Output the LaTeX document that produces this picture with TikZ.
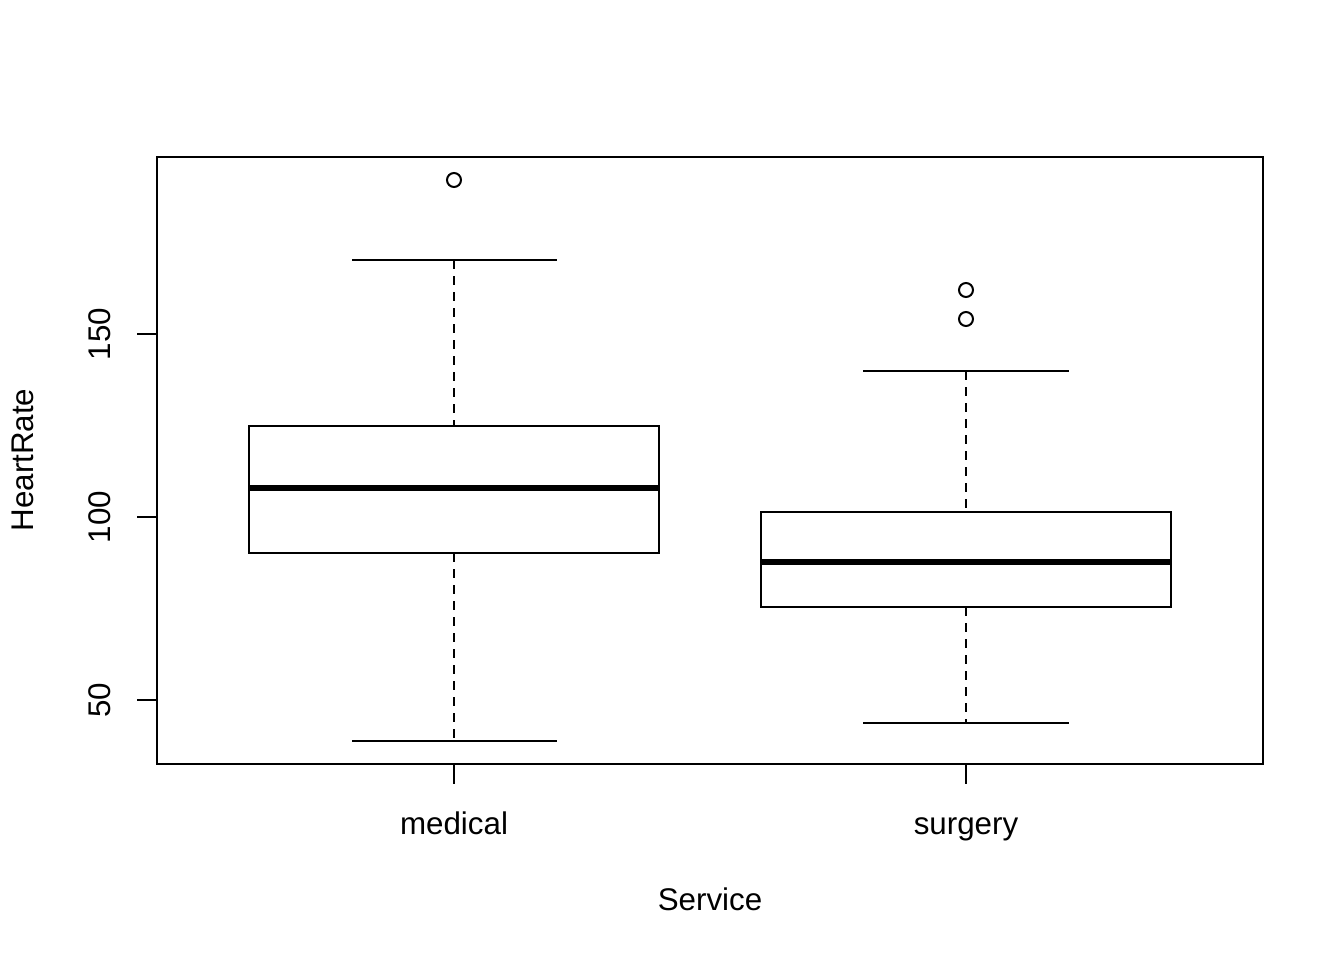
\documentclass[tikz,border=0pt]{standalone}
\usepackage{fontspec}
\setmainfont{Liberation Sans}
\usetikzlibrary{positioning}
\tikzstyle{frame} = [line width=1.5pt]
\tikzstyle{box} = [line width=1.5pt]
\tikzstyle{median} = [line width=4.5pt]
\tikzstyle{whisker} = [line width=1.5pt, dash pattern=on 7pt off 5pt]
\tikzstyle{outlier} = [line width=1.5pt, circle, draw, inner sep=0pt, minimum size=10.5pt]
\tikzstyle{lab} = [font=\fontsize{23.5}{28}\selectfont, inner sep=0pt]

\begin{document}
\begin{tikzpicture}[x=0.75pt,y=-0.75pt]
\useasboundingbox (0,0) rectangle (1344,960);
% plot frame
\draw[frame] (157,157) rectangle (1263,764);
% y axis
\foreach \v/\y in {50/700,100/517,150/334}{
  \draw[frame] (137,\y) -- (157,\y);
  \node[lab,rotate=90,anchor=base] (y\v) at (110,\y) {\v};
}
\node[lab,rotate=90,anchor=base] (ylab) at (33,460) {HeartRate};
% x axis
\foreach \x/\g in {454/medical,966/surgery}{
  \draw[frame] (\x,764) -- (\x,784);
  \node[lab,anchor=base] (\g) at (\x,834) {\g};
}
\node[lab,anchor=base] (xlab) at (710,910) {Service};

% medical
\coordinate (mtop) at (454,260);
\coordinate (mbot) at (454,741);
\draw[whisker] (mtop) -- (454,426);
\draw[whisker] (454,553) -- (mbot);
\draw[box] (352,260) -- (557,260);
\draw[box] (352,741) -- (557,741);
\draw[box] (249,426) rectangle (659,553);
\draw[median] (249,488) -- (659,488);
\node[outlier] (mout) at (454,180) {};

% surgery
\coordinate (stop) at (966,371);
\coordinate (sbot) at (966,723);
\draw[whisker] (stop) -- (966,512);
\draw[whisker] (966,607) -- (sbot);
\draw[box] (863,371) -- (1069,371);
\draw[box] (863,723) -- (1069,723);
\draw[box] (761,512) rectangle (1171,607);
\draw[median] (761,562) -- (1171,562);
\node[outlier] (sout1) at (966,290) {};
\node[outlier] (sout2) at (966,319) {};
\end{tikzpicture}
\end{document}
